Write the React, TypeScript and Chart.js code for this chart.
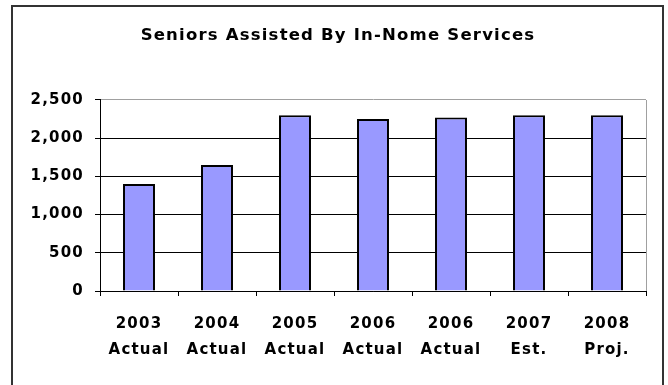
import React, { useEffect, useRef } from "react";
import { Chart, registerables } from "chart.js";

Chart.register(...registerables);

const chartTitle = "Seniors Assisted By In-Nome Services";
const years = ["2003", "2004", "2005", "2006", "2006", "2007", "2008"];
const statuses = ["Actual", "Actual", "Actual", "Actual", "Actual", "Est.", "Proj."];
const seniorsAssisted = [1400, 1650, 2300, 2250, 2270, 2300, 2300];
const yTicks = [0, 500, 1000, 1500, 2000, 2500];

const FONT = "'DejaVu Sans', 'Liberation Sans', Arial, sans-serif";

export default function App() {
  const ref = useRef<HTMLCanvasElement>(null);

  useEffect(() => {
    if (!ref.current) return;

    const spacingPlugin = {
      id: "spacing",
      afterLayout(chart: any) {
        // centre the title over the whole framed box rather than the padded area
        if (chart.titleBlock) {
          chart.titleBlock.left = 0;
          chart.titleBlock.right = 676;
        }
      },
      beforeDraw(chart: any) {
        chart.ctx.letterSpacing = "1.2px";
      },
    };

    const framePlugin = {
      id: "frame",
      afterDraw(chart: any) {
        const { ctx, chartArea: a } = chart;
        ctx.save();
        ctx.strokeStyle = "#a0a0a0";
        ctx.lineWidth = 1;
        ctx.beginPath();
        ctx.moveTo(Math.round(a.right) + 0.5, a.top);
        ctx.lineTo(Math.round(a.right) + 0.5, a.bottom);
        ctx.stroke();
        ctx.restore();
      },
    };

    const chart = new Chart(ref.current, {
      type: "bar",
      data: {
        labels: years.map((y, i) => [y, statuses[i]]),
        datasets: [
          {
            data: seniorsAssisted,
            backgroundColor: "#9999ff",
            borderColor: "#000000",
            borderWidth: 2,
            categoryPercentage: 1,
            barPercentage: 0.41,
          },
        ],
      },
      options: {
        responsive: false,
        animation: false,
        devicePixelRatio: 1,
        layout: { padding: { left: 0, right: 22, top: 0, bottom: 0 } },
        plugins: {
          legend: { display: false },
          tooltip: { enabled: false },
          title: {
            display: true,
            text: chartTitle,
            color: "#000000",
            font: { family: FONT, size: 16.5, weight: "bold", lineHeight: 1.2 },
            padding: { top: 25.4, bottom: 54.8 },
          },
        },
        scales: {
          x: {
            grid: {
              offset: true,
              drawOnChartArea: false,
              drawTicks: true,
              tickLength: 5,
              color: "#000000",
            },
            border: { display: true, color: "#000000", width: 1 },
            ticks: {
              color: "#000000",
              font: { family: FONT, size: 15, weight: "bold", lineHeight: 1.75 },
              padding: 15,
              maxRotation: 0,
              autoSkip: false,
            },
            afterFit(scale: any) {
              scale.height = 94;
            },
          },
          y: {
            min: 0,
            max: 2500,
            afterBuildTicks(scale: any) {
              scale.ticks = yTicks.map((v) => ({ value: v }));
            },
            ticks: {
              color: "#000000",
              font: { family: FONT, size: 15, weight: "bold" },
              padding: 11,
              callback: (v: any) => Number(v).toLocaleString("en-US"),
            },
            grid: {
              color: (ctx: any) =>
                ctx.tick && ctx.tick.value === 2500 ? "#a0a0a0" : "#000000",
              tickColor: "#000000",
              tickLength: 5,
              lineWidth: 1,
            },
            border: { display: true, color: "#000000", width: 1 },
            afterFit(scale: any) {
              scale.width = 100;
            },
          },
        },
      },
      plugins: [spacingPlugin, framePlugin],
    });

    return () => chart.destroy();
  }, []);

  return (
    <div
      style={{
        position: "fixed",
        left: 0,
        top: 0,
        width: 668,
        height: 385,
        overflow: "hidden",
        background: "#ffffff",
      }}
    >
      <div
        style={{
          position: "absolute",
          left: 11,
          top: 5,
          width: 649,
          height: 420,
          border: "2px solid #333333",
          boxSizing: "content-box",
        }}
      />
      <canvas
        ref={ref}
        width={668}
        height={385}
        style={{ position: "absolute", left: 0, top: 0, width: 668, height: 385 }}
      />
    </div>
  );
}
